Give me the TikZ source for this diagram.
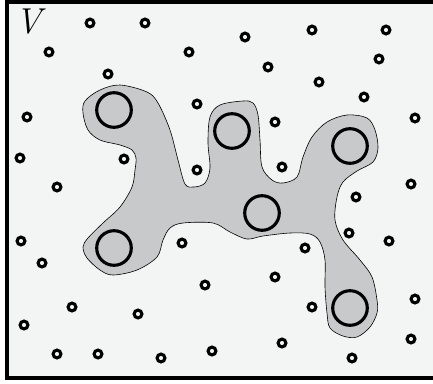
\documentclass[tikz,border=0pt]{standalone}
\usepackage{tikz}
\definecolor{bgray}{RGB}{243,244,244}
\definecolor{blobgray}{RGB}{200,201,203}
\tikzset{graphv/.style={x=1pt,y=-1pt},
  dot/.style={circle,draw,line width=3.1pt,minimum size=7.8pt,inner sep=0pt},
  bigdot/.style={circle,draw,line width=3.1pt,minimum size=34.6pt,inner sep=0pt}}

\begin{document}
\begin{tikzpicture}[graphv]
    \useasboundingbox (0,0) rectangle (433,383);
    \fill[bgray] (7,2) rectangle (433,378);
    \draw[line width=4.5pt] (433,2.2) -- (7,2.2) -- (7,378) -- (433,378);
    \node[anchor=center,inner sep=0pt,font=\fontsize{36}{36}\selectfont\itshape] (lab) at (29,22) {V};
    % cluster region
    \draw[fill=blobgray,line width=0.6pt] plot[smooth cycle,tension=0.55] coordinates {
      (120,85) (147,92) (158,103) (170,130) (178,160) (185,184) (194,187) (205,183)
      (210,168) (208,143) (210,117) (220,105) (243,101) (253,103) (258,115) (260,140)
      (262,167) (272,180) (283,183) (297,177) (303,157) (312,137) (327,122) (347,115)
      (367,118) (375,130) (378,148) (373,162) (357,171) (343,182) (337,197) (335,220)
      (343,240) (360,260) (372,277) (377,300) (377,313) (370,327) (357,337) (343,336)
      (330,328) (327,313) (325,287) (325,260) (320,242) (310,234) (290,233) (263,236)
      (247,239) (230,232) (213,223) (183,223) (170,228) (163,240) (157,257) (137,270)
      (113,275) (100,270) (87,258) (83,247) (88,238) (103,223) (120,207) (132,187)
      (135,170) (136,158) (132,150) (120,145) (100,140) (88,130) (83,113) (85,101) (100,90)};
    % centres
    \foreach \p [count=\i] in {(114,110),(232,131),(350,146),(262,213),(114,248),(350,308)}
      \node[bigdot] (c\i) at \p {};
    % vertices
    \foreach \p [count=\i] in {(90,23),(145,23),(49,52),(189,52),(108,74),(197,104),(27,117),
      (20,158),(124,159),(197,170),(57,187),(245,37),(312,30),(386,30),(268,67),(379,59),
      (319,82),(364,97),(275,122),(415,118),(282,167),(411,184),(21,241),(42,263),(72,307),
      (138,314),(24,325),(57,354),(98,354),(161,358),(212,351),(182,243),(205,285),(356,197),
      (349,233),(389,241),(305,248),(275,277),(415,299),(312,307),(411,339),(282,343),(352,358)}
      \node[dot] (v\i) at \p {};
\end{tikzpicture}
\end{document}
